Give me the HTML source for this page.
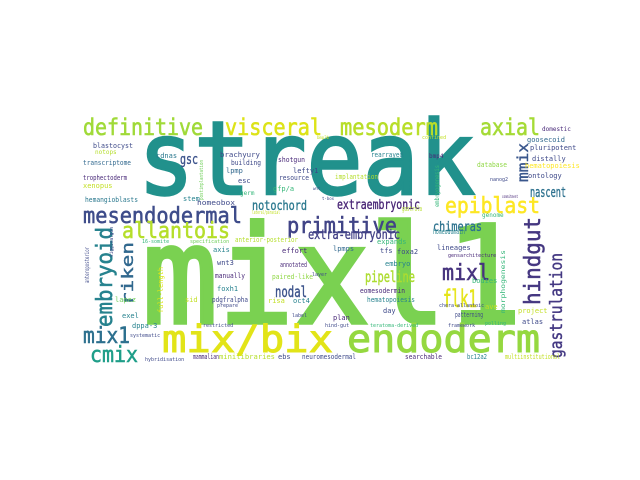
<!DOCTYPE html>
<html><head><meta charset="utf-8"><style>
html,body{margin:0;padding:0;background:#fff;width:640px;height:480px;overflow:hidden}
svg{display:block}
text{font-family:"DejaVu Sans Mono","Liberation Mono",monospace}
</style></head><body>
<svg id="cloud" width="640" height="480" viewBox="0 0 640 480" xmlns="http://www.w3.org/2000/svg">
<rect width="640" height="480" fill="#ffffff"/>
</svg>
<script>
// [text, x, y(baseline / start), fontSize, textLength (0=auto), color, vertical]
const words = [
["streak",138,194,102,337,"#21918c",0],
["mixl1",142,323,136,380,"#7ad151",0],
["mix/bix",162,352,37,171,"#e2e418",0],
["endoderm",347,352,38,193,"#95d840",0],
["definitive",83,135,23,120,"#a0da39",0],
["visceral",225,135,23,97,"#dde318",0],
["mesoderm",340,135,23,98,"#b8de29",0],
["axial",480,135,23,60,"#a5db36",0],
["mesendodermal",83,223,22,159,"#3e4c8a",0],
["allantois",122,238,22,108,"#b5de2b",0],
["primitive",287,233,22,110,"#414487",0],
["epiblast",445,213,22,95,"#fde725",0],
["extraembryonic",337,209,13,83,"#482475",0],
["notochord",252,210,13,55,"#2a788e",0],
["extra-embryonic",308,239,13,92,"#424086",0],
["chimeras",433,231,13,49,"#2c728e",0],
["mixl",442,280,22,48,"#46337e",0],
["flk1",443,307,24,34,"#e5e419",0],
["pipeline",365,282,15,50,"#addc30",0],
["nodal",275,297,15,32,"#3b528b",0],
["gsc",180,164,14,18,"#3b528b",0],
["mix1",83,343,22,47,"#2d708e",0],
["cmix",90,362,22,48,"#1f9e89",0],
["nascent",530,197,14,36,"#2d718e",0],
["riken",133,305,16,63,"#31688e",1],
["embryoid",112,327,22,100,"#26828e",1],
["mmix",528,182,15,39,"#39568c",1],
["hindgut",540,305,22,88,"#453781",1],
["gastrulation",562,358,17,105,"#443983",1],
["blastocyst",93,148,7,40,"#3e4a89",0],
["notops",95,154,6,0,"#b5de2b",0],
["transcriptome",83,165,7,48,"#31688e",0],
["trophectoderm",83,180,7,44,"#482878",0],
["xenopus",83,188,7,0,"#c2df23",0],
["hemangioblasts",85,202,7,53,"#2a788e",0],
["cdnas",156,158,7,0,"#2a788e",0],
["brachyury",220,157,7,40,"#3e4989",0],
["building",231,165,7,30,"#3e4989",0],
["lpmp",226,173,7,0,"#31688e",0],
["esc",238,183,7,0,"#3e4989",0],
["germ",240,195,6,0,"#35b779",0],
["stem",183,201,7,0,"#26828e",0],
["homeobox",197,205,7,38,"#3e4989",0],
["shotgun",278,162,7,27,"#482878",0],
["lefty1",293,173,7,0,"#3e4989",0],
["resource",279,180,7,30,"#3e4989",0],
["gfp/a",273,191,7,0,"#35b779",0],
["postimplantation",203,200,5,40,"#6ece58",1],
["implantation",335,179,7,43,"#b5de2b",0],
["rearrayed",371,157,7,32,"#26828e",0],
["bmp4",429,158,6,0,"#482878",0],
["database",477,167,7,30,"#8fd744",0],
["embryogenesis",439,207,6,42,"#35b779",1],
["gastrula",402,211,7,20,"#b5de2b",0],
["genome",482,217,6,0,"#35b779",0],
["lateral/paraxial",252,214,5,28,"#c2df23",0],
["commitment",502,198,4,16,"#482878",0],
["nanog2",490,181,5,0,"#3e4989",0],
["goosecoid",527,142,7,0,"#31688e",0],
["pluripotent",530,150,7,0,"#3e4989",0],
["distally",532,161,7,0,"#3e4989",0],
["hematopoiesis",525,168,7,0,"#fde725",0],
["ontology",528,178,7,0,"#3e4989",0],
["domestic",542,131,6,0,"#482878",0],
["confined",422,139,5,0,"#c2df23",0],
["bmp3b",317,139,4,0,"#c2df23",0],
["wnt",313,190,4,0,"#3e4989",0],
["t-box",322,200,4,0,"#3e4989",0],
["anterior-posterior",235,242,7,63,"#b5de2b",0],
["16-somite",142,243,5,0,"#35b779",0],
["specification",190,243,5,0,"#6ece58",0],
["expands",377,244,7,0,"#35b779",0],
["homeodomain",433,234,7,32,"#26828e",0],
["lineages",437,250,7,0,"#3e4989",0],
["gensarchitecture",448,257,5,0,"#482878",0],
["morphogenesis",505,313,6,63,"#35b779",1],
["anteroposterior",89,283,6,36,"#3e4989",1],
["axis",213,252,7,0,"#26828e",0],
["effort",282,253,7,0,"#482878",0],
["lpmps",333,251,7,0,"#31688e",0],
["tfs",380,253,7,0,"#3e4989",0],
["foxa2",397,254,7,0,"#3e4989",0],
["wnt3",217,265,7,0,"#3e4989",0],
["annotated",280,267,7,27,"#482878",0],
["embryo",385,266,7,0,"#26828e",0],
["manually",215,278,7,30,"#482878",0],
["paired-like",272,279,7,41,"#8fd744",0],
["layer",312,276,5,0,"#3e4989",0],
["bodies",472,283,7,0,"#35b779",0],
["foxh1",217,291,7,0,"#26828e",0],
["eomesodermin",360,293,7,45,"#482878",0],
["full-length",163,313,7,46,"#dde318",1],
["sid",185,302,7,0,"#c2df23",0],
["lapez",115,302,7,0,"#6ece58",0],
["pdgfralpha",212,302,7,36,"#3e4989",0],
["risa",268,303,7,0,"#c2df23",0],
["oct4",293,303,7,0,"#26828e",0],
["hematopoiesis",367,302,7,48,"#26828e",0],
["prepare",217,307,5,0,"#3e4989",0],
["day",383,313,7,0,"#3e4989",0],
["chera-allantoic",439,307,5,0,"#3e4989",0],
["ave",485,309,7,0,"#c2df23",0],
["patterning",455,317,7,28,"#3e4989",0],
["project",518,313,7,0,"#c2df23",0],
["exel",122,318,7,0,"#26828e",0],
["label",292,317,5,0,"#3e4989",0],
["plan",333,320,7,0,"#482878",0],
["atlas",522,324,7,0,"#3e4989",0],
["dppa-3",132,328,7,0,"#26828e",0],
["restricted",203,327,5,0,"#3e4989",0],
["hind-gut",325,327,5,0,"#3e4989",0],
["teratoma-derived",370,327,5,0,"#35b779",0],
["framework",448,327,5,0,"#3e4989",0],
["polling",485,325,5,0,"#35b779",0],
["systematic",130,337,5,0,"#3e4989",0],
["hybridisation",145,361,5,0,"#3e4989",0],
["mammalian",193,359,7,26,"#482878",0],
["minilibraries",219,359,7,56,"#b5de2b",0],
["ebs",278,359,7,0,"#3e4989",0],
["neuromesodermal",302,359,7,54,"#3e4989",0],
["searchable",405,359,7,37,"#482878",0],
["bc12a2",467,359,7,20,"#26828e",0],
["multiinstitutional",505,359,7,55,"#c2df23",0],
["siggivalgen",113,257,5,30,"#3e4989",1]
];
const svgNS = "http://www.w3.org/2000/svg";
const svg = document.getElementById('cloud');
words.forEach(w => {
  const el = document.createElementNS(svgNS, 'text');
  
  
  el.setAttribute('x', w[1]);
  el.setAttribute('y', w[2]);
  el.setAttribute('font-size', w[3]);
  el.setAttribute('fill', w[5]);
  if (w[3] >= 12) {
    el.setAttribute('stroke', w[5]);
    el.setAttribute('stroke-width', (w[3] * 0.025).toFixed(2));
  }
  if (w[4] > 0) {
    el.setAttribute('textLength', w[4]);
    el.setAttribute('lengthAdjust', 'spacingAndGlyphs');
  }
  if (w[6]) el.setAttribute('transform', 'rotate(-90 ' + w[1] + ' ' + w[2] + ')');
  el.textContent = w[0];
  svg.appendChild(el);
});
</script>
</body></html>
